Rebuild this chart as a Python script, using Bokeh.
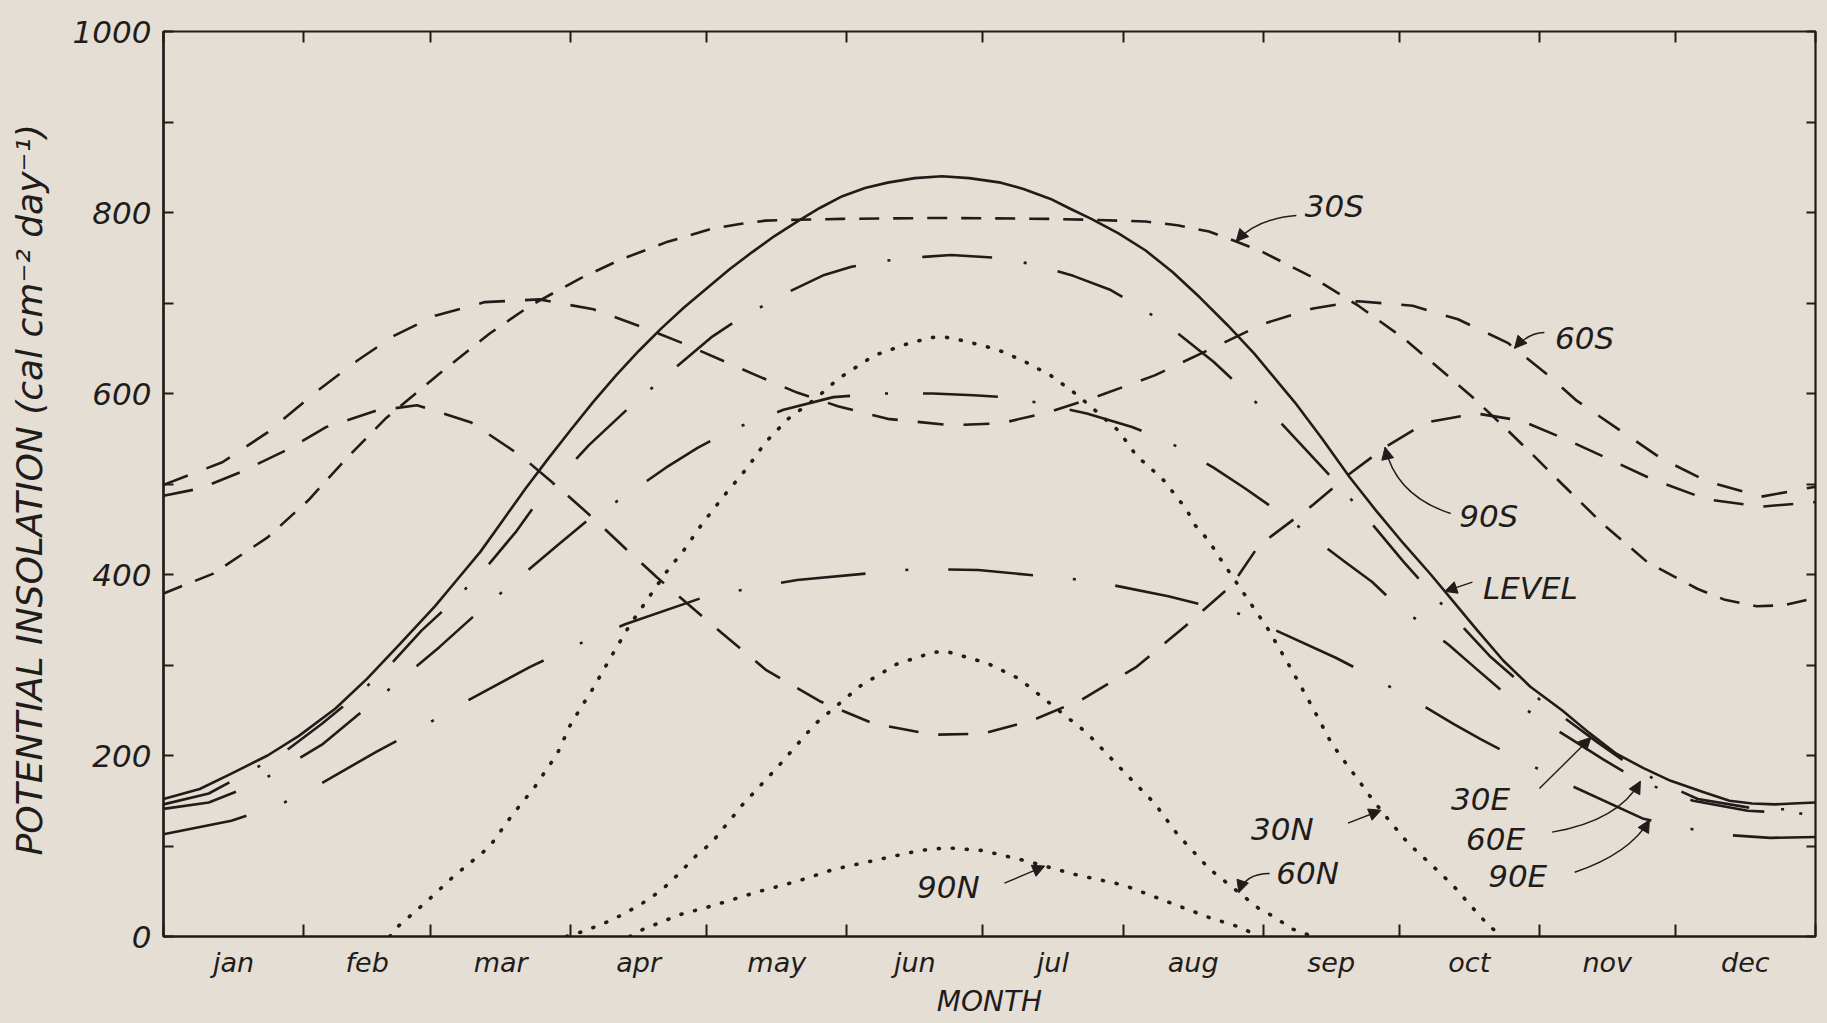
import numpy as np
from bokeh.plotting import figure
from bokeh.models import Range1d, FixedTicker, LinearAxis, Arrow, NormalHead, Label
from bokeh.embed import file_html
from bokeh.resources import INLINE

# ---------------- data ----------------
months = ["jan", "feb", "mar", "apr", "may", "jun", "jul", "aug", "sep", "oct", "nov", "dec"]
month_days = [31, 28, 31, 30, 31, 30, 31, 31, 30, 31, 30, 31]
y_ticks = [0, 200, 400, 600, 800, 1000]
y_minor = [100, 300, 500, 700, 900]

level_day = [0, 8, 15, 23, 30, 38, 45, 52, 60, 65, 70, 75, 80, 85, 90, 95, 100, 105, 110, 115, 120, 125, 130, 135,
             140, 145, 150, 155, 160, 166, 172, 178, 185, 190, 196, 200, 205, 211, 217, 223, 229, 235, 241, 246,
             250, 256, 262, 268, 274, 280, 285, 290, 296, 302, 309, 315, 321, 327, 333, 340, 346, 351, 356, 360, 365]
level_val = [152, 163, 180, 200, 222, 252, 285, 322, 365, 395, 425, 460, 495, 528, 560, 591, 620, 647, 672, 695, 716, 737, 756, 774,
             790, 805, 818, 827, 833, 838, 840, 838, 833, 826, 815, 805, 793, 777, 758, 734, 706, 676, 644, 614,
             590, 550, 508, 470, 434, 400, 370, 340, 305, 276, 250, 225, 202, 186, 172, 160, 150, 147, 146, 147, 148]

s30_day = [0, 11, 23, 32, 40, 49, 61, 72, 81, 92, 101, 111, 121, 127, 133, 140, 150, 172, 195, 205, 217, 224, 231, 237,
           243, 254, 264, 274, 282, 289, 296, 303, 309, 318, 328, 339, 345, 352, 358, 365]
s30_val = [379, 401, 441, 482, 526, 572, 622, 666, 697, 727, 748, 767, 782, 787, 791, 792, 793, 794, 793, 792, 790, 786, 779, 768,
           756, 728, 697, 661, 627, 597, 564, 530, 500, 456, 413, 384, 372, 365, 366, 374]

s60_day = [0, 13, 23, 34, 43, 51, 60, 71, 83, 95, 106, 115, 131, 140, 149, 160, 174, 185, 196, 207, 219, 230, 243,
           254, 264, 276, 286, 297, 306, 312, 321, 331, 341, 353, 365]
s60_val = [499, 524, 557, 603, 637, 664, 686, 701, 704, 693, 673, 655, 620, 601, 586, 572, 565, 567, 580, 598, 620, 646, 677,
           694, 702, 697, 682, 656, 620, 593, 562, 528, 503, 486, 497]

s90_day = [0, 8, 17, 27, 36, 47, 56, 68, 79, 88, 95, 102, 109, 122, 133, 145, 157, 170, 181, 192, 203, 215, 226, 236,
           242, 254, 262, 270, 279, 290, 300, 310, 320, 329, 341, 353, 365]
s90_val = [487, 495, 513, 537, 563, 581, 587, 568, 531, 493, 462, 429, 397, 341, 295, 260, 235, 223, 224, 239, 262, 298, 344, 388,
           432, 477, 511, 541, 568, 578, 570, 549, 526, 505, 483, 475, 480]

e30_day = [0, 10, 20, 27, 35, 44, 51, 57, 65, 72, 78, 83, 94, 103, 113, 121, 127, 138, 146, 152, 160, 168, 174, 184,
           193, 201, 209, 216, 224, 232, 238, 242, 247, 257, 264, 274, 281, 293, 304, 317, 323, 330, 339, 352, 365]
e30_val = [146, 158, 185, 205, 235, 272, 305, 338, 375, 412, 448, 483, 543, 585, 628, 662, 682, 712, 731, 740, 747, 751, 753, 750,
           742, 730, 715, 695, 667, 635, 607, 587, 567, 513, 474, 414, 375, 310, 262, 214, 193, 172, 152, 141, 140]

e60_day = [0, 10, 20, 25, 35, 43, 52, 61, 69, 77, 87, 94, 103, 111, 118, 126, 137, 148, 159, 170, 179, 186, 193, 204,
           214, 219, 225, 232, 239, 245, 250, 261, 267, 271, 284, 290, 297, 304, 312, 318, 326, 338, 350, 365]
e60_val = [141, 148, 168, 182, 212, 245, 282, 320, 356, 390, 432, 461, 490, 518, 540, 561, 582, 596, 600, 600, 598, 596, 590, 578,
           563, 553, 539, 518, 495, 474, 456, 414, 392, 373, 322, 296, 266, 240, 215, 196, 172, 150, 139, 135]

e90_day = [0, 15, 25, 32, 47, 56, 64, 81, 93, 102, 120, 140, 166, 180, 205, 222, 239, 245, 259, 266, 279, 285, 291,
           310, 327, 343, 355, 365]
e90_val = [113, 128, 144, 161, 204, 228, 252, 298, 326, 345, 376, 394, 406, 405, 393, 376, 355, 340, 308, 290, 253, 235, 218,
           169, 130, 113, 109, 110]

n30_day = [50, 52, 58, 64, 72, 77, 82, 87, 90, 95, 99, 103, 107, 111, 115, 119, 124, 129, 133, 138, 144, 149, 157, 165,
           170, 173, 177, 184, 190, 196, 202, 205, 211, 215, 218, 221, 226, 228, 231, 233, 244, 249, 254, 258, 261, 265,
           267, 271, 275, 280, 285, 289, 293, 296]
n30_val = [0, 12, 38, 66, 99, 134, 165, 202, 235, 275, 310, 344, 373, 402, 427, 456, 488, 518, 546, 572, 594, 616, 642, 656,
           662, 662, 658, 649, 636, 620, 598, 585, 559, 531, 518, 504, 472, 454, 437, 421, 340, 297, 252, 214, 193, 166,
           152, 127, 103, 80, 56, 33, 11, 0]

n60_day = [89, 93, 99, 105, 110, 114, 118, 121, 128, 136, 144, 154, 162, 170, 173, 182, 189, 196, 204, 212, 219, 224,
           231, 238, 242, 246, 249, 254]
n60_val = [0, 6, 18, 34, 51, 70, 91, 103, 146, 189, 235, 277, 301, 314, 315, 302, 285, 257, 225, 183, 147, 113,
           75, 47, 31, 20, 9, 0]

n90_day = [103, 106, 114, 122, 131, 140, 148, 157, 167, 173, 181, 191, 201, 212, 221, 231, 238, 242]
n90_val = [0, 8, 24, 35, 49, 61, 74, 84, 95, 98, 95, 83, 69, 57, 40, 21, 10, 0]

# label text, label x/y, arrow start x/y, curve control x/y (None = straight), arrow tip day, series
annotations = [
    ("30S", 258.7, 807, 250.3, 796.7, 241.5, 793.0, 237.0, "30S"),
    ("60S", 314.0, 661, 305.1, 667.4, 301.5, 667.0, 298.5, "60S"),
    ("90S", 292.8, 465, 284.4, 467.4, 272.3, 487.0, 269.9, "90S"),
    ("LEVEL", 302.0, 385, 289.2, 391.5, None, None, 283.1, "LEVEL"),
    ("30E", 291.0, 152, 304.0, 163.5, None, None, 315.4, "30E"),
    ("60E", 294.3, 108, 306.8, 115.3, 321.5, 128.0, 326.3, "60E"),
    ("90E", 299.2, 67, 311.8, 71.0, 324.0, 91.7, 328.3, "90E"),
    ("30N", 247.2, 119, 261.7, 125.2, None, None, 269.0, "30N"),
    ("60N", 252.8, 70, 244.4, 69.6, 239.0, 69.6, 237.6, "60N"),
    ("90N", 173.4, 55, 185.8, 58.9, None, None, 194.7, "90N"),
]

# ---------------- styling ----------------
BG = "#e4ded5"
INK = "#1f1c1a"
FONT = "DejaVu Sans"

series = {
    "LEVEL": (level_day, level_val, "solid", 2.6, "butt"),
    "30S": (s30_day, s30_val, "20 14", 2.6, "butt"),
    "60S": (s60_day, s60_val, "26 20", 2.6, "butt"),
    "90S": (s90_day, s90_val, "30 20", 2.6, "butt"),
    "30E": (e30_day, e30_val, "70 32 3 32", 2.6, "butt"),
    "60E": (e60_day, e60_val, "75 35 3 35", 2.6, "butt"),
    "90E": (e90_day, e90_val, "85 40 3 40", 2.6, "butt"),
    "30N": (n30_day, n30_val, "1 13", 3.6, "round"),
    "60N": (n60_day, n60_val, "1 13", 3.6, "round"),
    "90N": (n90_day, n90_val, "1 13", 3.6, "round"),
}

edges = np.concatenate([[0], np.cumsum(month_days)]).astype(float)
mids = [float((edges[i] + edges[i + 1]) / 2) for i in range(12)]

p = figure(width=1825, height=1021, x_range=Range1d(0, 365), y_range=Range1d(0, 1000),
           output_backend="svg", toolbar_location=None,
           min_border_left=163, min_border_right=10, min_border_top=31, min_border_bottom=85,
           background_fill_color=BG, border_fill_color=BG,
           outline_line_color=INK, outline_line_width=2.2)
p.grid.visible = False

# bottom axis: month names at mid-month, ticks at month boundaries
xa = p.xaxis[0]
xa.ticker = FixedTicker(ticks=mids, minor_ticks=[float(e) for e in edges])
xa.major_label_overrides = {m: n for m, n in zip(mids, months)}
xa.major_tick_in = 0
xa.major_tick_out = 0
xa.minor_tick_in = 12
xa.minor_tick_out = 0
xa.minor_tick_line_color = INK
xa.minor_tick_line_width = 2
xa.axis_line_color = INK
xa.axis_line_width = 2.2
xa.major_label_text_font = FONT
xa.major_label_text_font_style = "italic"
xa.major_label_text_font_size = "27px"
xa.major_label_text_color = INK
xa.major_label_standoff = 10
xa.axis_label = "MONTH"
xa.axis_label_text_font = FONT
xa.axis_label_text_font_style = "italic"
xa.axis_label_text_font_size = "28px"
xa.axis_label_text_color = INK
xa.axis_label_standoff = 4

ya = p.yaxis[0]
ya.ticker = FixedTicker(ticks=y_ticks, minor_ticks=y_minor)
ya.major_tick_in = 10
ya.major_tick_out = 0
ya.minor_tick_in = 10
ya.minor_tick_out = 0
ya.major_tick_line_color = INK
ya.minor_tick_line_color = INK
ya.major_tick_line_width = 2
ya.minor_tick_line_width = 2
ya.axis_line_color = INK
ya.axis_line_width = 2.2
ya.major_label_text_font = FONT
ya.major_label_text_font_style = "italic"
ya.major_label_text_font_size = "31px"
ya.major_label_text_color = INK
ya.major_label_standoff = 12
ya.axis_label = "POTENTIAL  INSOLATION (cal cm\u207b\u00b2 day\u207b\u00b9)"
ya.axis_label_text_font = FONT
ya.axis_label_text_font_style = "italic"
ya.axis_label_text_font_size = "36px"
ya.axis_label_text_color = INK
ya.axis_label_standoff = 20

top = LinearAxis(ticker=FixedTicker(ticks=[], minor_ticks=[float(e) for e in edges]),
                 minor_tick_in=11, minor_tick_out=0, minor_tick_line_color=INK, minor_tick_line_width=2,
                 major_tick_in=0, major_tick_out=0, axis_line_color=None,
                 major_label_text_font_size="0px", major_label_standoff=0)
p.add_layout(top, "above")
right = LinearAxis(ticker=FixedTicker(ticks=[], minor_ticks=[float(v) for v in range(0, 1001, 100)]),
                   minor_tick_in=9, minor_tick_out=0, minor_tick_line_color=INK, minor_tick_line_width=2,
                   major_tick_in=0, major_tick_out=0, axis_line_color=None,
                   major_label_text_font_size="0px", major_label_standoff=0)
p.add_layout(right, "right")

for name, (d, v, dash, w, cap) in series.items():
    p.line(x=d, y=v, line_color=INK, line_width=w, line_dash=dash, line_cap=cap, line_join="round")

# annotations
for text, lx, ly, sx, sy, cx, cy, tip_d, sname in annotations:
    d, v = series[sname][0], series[sname][1]
    tip_v = float(np.interp(tip_d, d, v))
    p.add_layout(Label(x=lx, y=ly, text=text, text_align="center", text_baseline="middle",
                       text_font=FONT, text_font_style="italic", text_font_size="31px", text_color=INK))
    head = NormalHead(size=12, fill_color=INK, line_color=INK, line_width=1)
    if cx is None:
        p.add_layout(Arrow(end=head, x_start=sx, y_start=sy, x_end=tip_d, y_end=tip_v,
                           line_color=INK, line_width=1.4))
    else:
        p.quadratic(x0=[sx], y0=[sy], x1=[tip_d], y1=[tip_v], cx=[cx], cy=[cy],
                    line_color=INK, line_width=1.4)
        p.add_layout(Arrow(end=head, x_start=cx, y_start=cy, x_end=tip_d, y_end=tip_v,
                           line_alpha=0, line_width=1.4))

html = file_html(p, INLINE)
html = html.replace("<head>", "<head><style>html,body{background:%s;}</style>" % BG, 1)
open("out.html", "w").write(html)
